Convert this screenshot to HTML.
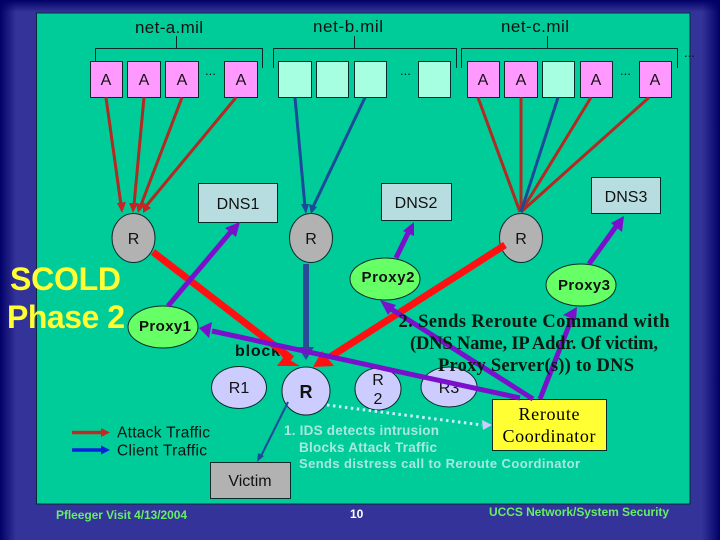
<!DOCTYPE html>
<html><head><meta charset="utf-8"><style>
html,body{margin:0;padding:0;width:720px;height:540px;overflow:hidden;background:#333399}
svg{display:block}
text{font-family:"Liberation Sans",sans-serif;fill:#111}
.s{font-family:"Liberation Serif",serif;font-weight:bold;fill:#0a1a10}
</style></head><body>
<svg width="720" height="540" viewBox="0 0 720 540" xmlns="http://www.w3.org/2000/svg">
<defs>
<linearGradient id="gl" x1="0" x2="1" y1="0" y2="0"><stop offset="0" stop-color="#000066"/><stop offset="1" stop-color="#000066" stop-opacity="0"/></linearGradient>
<linearGradient id="gr" x1="0" x2="1" y1="0" y2="0"><stop offset="0" stop-color="#000066" stop-opacity="0"/><stop offset="1" stop-color="#000066"/></linearGradient>
<linearGradient id="gt" x1="0" x2="0" y1="0" y2="1"><stop offset="0" stop-color="#000066"/><stop offset="1" stop-color="#000066" stop-opacity="0"/></linearGradient>
</defs>
<rect width="720" height="540" fill="#333399"/>
<rect width="720" height="12" fill="url(#gt)"/>
<rect width="16" height="540" fill="url(#gl)"/>
<rect x="702" width="18" height="540" fill="url(#gr)"/>
<rect x="36.500" y="13" width="653.500" height="491" fill="#00CC99" stroke="#0a2a3a" stroke-width="1"/>

<g font-size="17">
<text x="135" y="33" textLength="68">net-a.mil</text>
<text x="313" y="32" textLength="70">net-b.mil</text>
<text x="501" y="32" textLength="68">net-c.mil</text>
</g>
<g fill="none" stroke="#0a2a2a" stroke-width="1">
<path d="M95.500 68V48.500H262.500V68M176.500 36V48.500"/>
<path d="M273.500 68V48.500H456.500V68M354.500 36V48.500"/>
<path d="M461.500 68V48.500H677.500V68M547.500 36V48.500"/>
</g>
<g font-size="13">
<text x="205" y="75">...</text><text x="400" y="75">...</text><text x="620" y="75">...</text><text x="684" y="57">...</text>
</g>

<g stroke="#0a2a2a" stroke-width="1">
<g fill="#FF99FF">
<rect x="90.500" y="61.500" width="32" height="36"/><rect x="127.500" y="61.500" width="33" height="36"/><rect x="165.500" y="61.500" width="33" height="36"/><rect x="224.500" y="61.500" width="33" height="36"/>
<rect x="467.500" y="61.500" width="32" height="36"/><rect x="504.500" y="61.500" width="33" height="36"/><rect x="580.500" y="61.500" width="32" height="36"/><rect x="639.500" y="61.500" width="32" height="36"/>
</g>
<g fill="#A6FFE0">
<rect x="278.500" y="61.500" width="33" height="36"/><rect x="316.500" y="61.500" width="32" height="36"/><rect x="354.500" y="61.500" width="32" height="36"/><rect x="418.500" y="61.500" width="32" height="36"/><rect x="542.500" y="61.500" width="32" height="36"/>
</g>
<g fill="#B8DDE0">
<rect x="198.500" y="183.500" width="79" height="39"/><rect x="381.500" y="183.500" width="70" height="37"/><rect x="591.500" y="177.500" width="69" height="36"/>
</g>
<g fill="#B2B2B2">
<ellipse cx="133.500" cy="238" rx="21.500" ry="24.500"/><ellipse cx="311" cy="238" rx="21.500" ry="24.500"/><ellipse cx="521" cy="238" rx="21.500" ry="24.500"/>
<rect x="210.500" y="462.500" width="80" height="36"/>
</g>
<g fill="#CCCCFF">
<ellipse cx="239" cy="387.500" rx="27.500" ry="21"/><ellipse cx="306" cy="391" rx="24" ry="24"/><ellipse cx="378" cy="389" rx="23" ry="21"/><ellipse cx="449" cy="387" rx="28" ry="20"/>
</g>
<g fill="#66FF66">
<ellipse cx="163" cy="327" rx="35" ry="21"/><ellipse cx="385" cy="279" rx="35" ry="21"/><ellipse cx="581" cy="285" rx="35" ry="21"/>
</g>
<rect x="492.500" y="399.500" width="114" height="51" fill="#FFFF33"/>
</g>

<g font-size="16" text-anchor="middle">
<text x="106" y="85">A</text><text x="144" y="85">A</text><text x="182" y="85">A</text><text x="241" y="85">A</text>
<text x="483" y="85">A</text><text x="521" y="85">A</text><text x="596" y="85">A</text><text x="655" y="85">A</text>
<text x="133.500" y="244">R</text><text x="311" y="244">R</text><text x="521" y="244">R</text>
<text x="238" y="209">DNS1</text><text x="416" y="208">DNS2</text><text x="626" y="202">DNS3</text>
<text x="239" y="393">R1</text>
<text x="378" y="385">R</text><text x="378" y="404">2</text>
<text x="449" y="393">R3</text>
<text x="250" y="486">Victim</text>
</g>
<text x="306" y="398" font-size="18" font-weight="bold" text-anchor="middle">R</text>
<text x="235" y="356" font-size="16" font-weight="bold" textLength="45">block</text>

<g font-size="15" font-weight="bold" text-anchor="middle">
<text x="165" y="331" textLength="52">Proxy1</text>
<text x="388" y="282" textLength="53">Proxy2</text>
<text x="584" y="290" textLength="52">Proxy3</text>
</g>

<!-- thin red/blue -->
<g fill="none" stroke-width="3">
<g stroke="#B22A22">
<path d="M106 97.500L121 205"/><path d="M144 97.500L134 205"/><path d="M182 97.500L141 205"/><path d="M236 97.500L147 205"/>
<path d="M478 97.500L520 212"/><path d="M521 97.500V212"/><path d="M591 97.500L521 212"/><path d="M649 97.500L521 212"/>
</g>
<g stroke="#1A4A99">
<path d="M295 97.500L305 207"/><path d="M365 97.500L313 207"/><path d="M558 97.500L521 212"/>
</g>
</g>
<g fill="#CC2222">
<path d="M117 203L126 202L122 213Z"/><path d="M129 203L138 203L133 213Z"/><path d="M136 203L145 205L138 213Z"/><path d="M143 202L151 208L143 213Z"/>
</g>
<g fill="#1A4A99">
<path d="M301 204L309 204L306 214Z"/><path d="M309 204L317 207L311 214Z"/>
</g>
<path d="M288 402L260 458" stroke="#1A4A99" stroke-width="2" fill="none"/>
<path d="M257 462L258 453L264 456Z" fill="#1A4A99"/>

<!-- thick red -->
<g fill="none" stroke="#FF1111" stroke-width="7">
<path d="M153 252L292 359"/><path d="M505 245L330 357"/>
</g>
<path d="M280 354L300 366L277 366L283 358Z" fill="#FF1111"/>
<path d="M322 351L313 367L334 366Z" fill="#FF1111"/>
<path d="M306 264V350" stroke="#2A4A9A" stroke-width="6" fill="none"/>
<path d="M298 347L314 347L306 360Z" fill="#2A4A9A"/>

<!-- purple -->
<g fill="none" stroke="#7A10CC" stroke-width="5">
<path d="M168 306L234 228"/><path d="M396 258L410 229"/><path d="M589 264L620 221"/>
<path d="M212 331L520 398"/><path d="M533 399L388 307"/><path d="M540 399L572 318"/>
</g>
<g fill="#7A10CC">
<path d="M240 222L225 228L236 237Z"/><path d="M414 222L403 231L414 236Z"/><path d="M624 216L611 223L622 232Z"/>
<path d="M199 328L212 322L209 338Z"/><path d="M380 300L396 305L388 315Z"/><path d="M577 307L563 315L576 320Z"/>
</g>

<!-- dotted -->
<path d="M327 405L482 425" stroke="#CCEEFF" stroke-width="3" stroke-dasharray="2.500 3.500" fill="none"/>
<path d="M492 425L482 420L483 430Z" fill="#CCCCFF"/>

<!-- legend -->
<path d="M72 432.500H102" stroke="#C02A20" stroke-width="3.500"/><path d="M101 428L110 432.500L101 437Z" fill="#C02A20"/>
<path d="M72 450H102" stroke="#0A22DD" stroke-width="3.500"/><path d="M101 445.500L110 450L101 454.500Z" fill="#0A22DD"/>
<g font-size="15.500">
<text x="117" y="437.500" textLength="93">Attack Traffic</text>
<text x="117" y="455.500" textLength="90">Client Traffic</text>
</g>

<!-- blue text -->
<g font-size="13.500" font-weight="bold">
<text x="284" y="435" style="fill:#A8E8E0" textLength="155">1. IDS detects intrusion</text>
<text x="299" y="452" style="fill:#A8E8E0" textLength="138">Blocks Attack Traffic</text>
<text x="299" y="468" font-size="13" style="fill:#A8E8E0" textLength="281">Sends distress call to Reroute Coordinator</text>
</g>

<!-- serif text -->
<g class="s" font-size="18.500" text-anchor="middle">
<text class="s" x="534" y="327" textLength="271">2. Sends Reroute  Command with</text>
<text class="s" x="534" y="349" textLength="248">(DNS Name, IP Addr. Of victim,</text>
<text class="s" x="536" y="371" textLength="196">Proxy Server(s)) to DNS</text>
</g>
<g font-size="18" text-anchor="middle">
<text x="549" y="420" style='font-family:"Liberation Serif",serif;fill:#000' textLength="61">Reroute</text>
<text x="549" y="442" style='font-family:"Liberation Serif",serif;fill:#000' textLength="93">Coordinator</text>
</g>

<!-- title -->
<g font-size="32" font-weight="bold">
<text x="10" y="290" style="fill:#FFFF33" textLength="111">SCOLD</text>
<text x="7" y="328" style="fill:#FFFF33" textLength="118">Phase 2</text>
</g>

<!-- footer -->
<g font-weight="bold" font-size="12">
<text x="56" y="519" style="fill:#66EE66" textLength="131">Pfleeger Visit 4/13/2004</text>
<text x="350" y="518" style="fill:#fff" font-size="12">10</text>
<text x="489" y="516" style="fill:#66EE66" textLength="180">UCCS Network/System Security</text>
</g>
</svg>
</body></html>
